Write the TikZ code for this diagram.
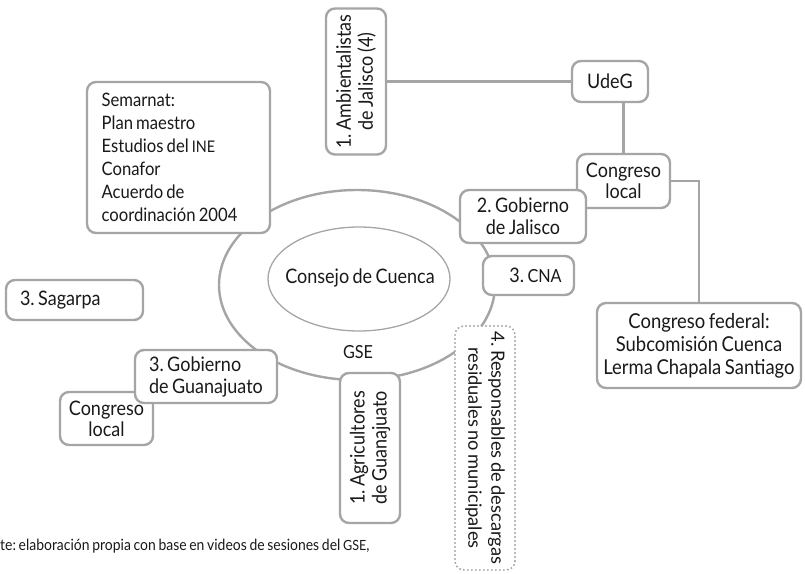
\documentclass[tikz,border=0pt]{standalone}
\usepackage{fontspec}
\setmainfont[FakeStretch=0.9, WordSpace=0.75]{Lato}
\newfontfamily\respfont[WordSpace=0.75]{Lato}
\definecolor{lg}{RGB}{165,165,165}
\definecolor{tx}{RGB}{25,25,25}
\frenchspacing
\begin{document}
\begin{tikzpicture}[x=1pt,y=-1pt,
  box/.style={draw=lg, line width=2.4pt, rounded corners=9pt, fill=white, text=tx, inner sep=0pt, align=center, font=\fontsize{20}{22}\selectfont},
  dotbox/.style={box, dash pattern=on 0pt off 4pt, line cap=round, line width=2.2pt},
  conn/.style={draw=lg, line width=2.4pt},
  plain/.style={text=tx, inner sep=0pt, font=\fontsize{20}{22}\selectfont}
]
\useasboundingbox (0,0) rectangle (805,573);
% ellipses
\draw[lg, line width=2.4pt] (357,285) ellipse [x radius=138pt, y radius=95pt];
\draw[lg, line width=1.3pt] (359,279) ellipse [x radius=91pt, y radius=52pt];
\node[plain] (consejo) at (360,278) {Consejo de Cuenca};
\node[plain, font=\fontsize{18}{20}\selectfont] (gse) at (358,352) {GSE};
% boxes
\node[box, minimum width=93pt, minimum height=54pt, font=\fontsize{20}{21}\selectfont] (clocr) at (623.5,181) {Congreso\\local};
\node[box, minimum width=126pt, minimum height=53pt] (gobjal) at (523,216.5) {2. Gobierno\\de Jalisco};
\node[box, minimum width=91pt, minimum height=39pt] (cna) at (528.5,275.5) {\hspace*{14pt}3. {\fontsize{18}{20}\selectfont CNA}};
\node[dotbox, rotate=-90, minimum width=244pt, minimum height=60pt, font=\respfont\fontsize{18.3}{23}\selectfont] (resp) at (485,448) {4. Responsables de descargas\\residuales no municipales};
\node[box, rotate=90, minimum width=150pt, minimum height=60pt] (agri) at (370,448) {1. Agricultores\\de Guanajuato};
\node[box, minimum width=183pt, minimum height=151pt, align=left, font=\fontsize{18.5}{23}\selectfont] (sem) at (178.5,157.5) {Semarnat:\\Plan maestro\\Estudios del {\fontsize{16}{20}\selectfont INE}\\Conafor\\Acuerdo de\\coordinación 2004\hspace*{18pt}};
\node[box, rotate=90, minimum width=146pt, minimum height=60pt] (amb) at (356,81.5) {1. Ambientalistas\\de Jalisco (4)};
\node[box, minimum width=76pt, minimum height=41pt] (udeg) at (610,81.5) {UdeG};
\node[box, minimum width=204pt, minimum height=85pt, font=\fontsize{20.5}{23}\selectfont] (cfed) at (699,345.5) {Congreso federal:\\Subcomisión Cuenca\\Lerma Chapala Santiago};
\node[box, minimum width=137pt, minimum height=40pt] (sag) at (74.5,300) {\makebox[109pt][l]{3. Sagarpa}};
\node[box, minimum width=93pt, minimum height=53pt, font=\fontsize{20}{21}\selectfont] (clocl) at (106.5,418.5) {Congreso\\local};
\node[box, minimum width=142pt, minimum height=53pt, align=left] (gobgua) at (206,376.5) {3. Gobierno\\de Guanajuato};
% footer
\node[anchor=west, text=tx, inner sep=0pt, font=\fontsize{15.5}{17}\selectfont] (src) at (0,546) {te: elaboración propia con base en videos de sesiones del {\fontsize{14}{17}\selectfont GSE},};
% connectors
\draw[conn] (amb) -- (udeg);
\draw[conn] (clocr.north) -- (clocr.north |- udeg.south);
\draw[conn] (clocr.east) -| (cfed.north);
\end{tikzpicture}
\end{document}
